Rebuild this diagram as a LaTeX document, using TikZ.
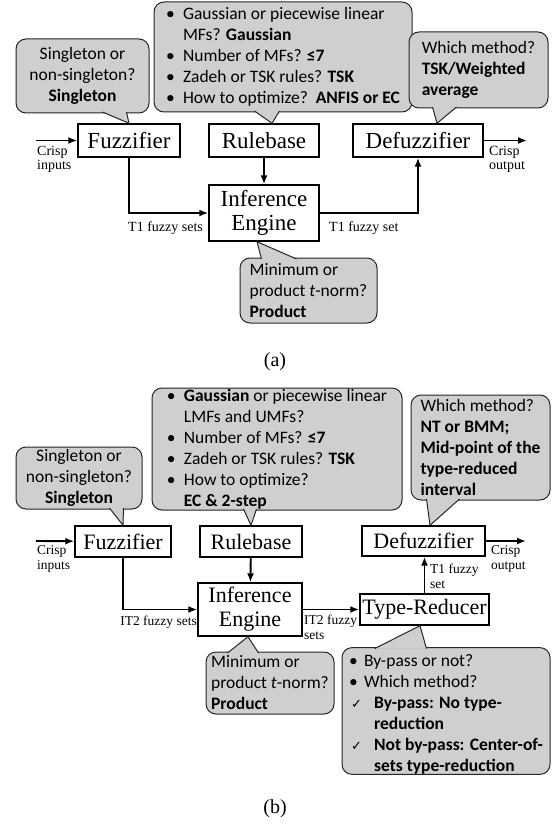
\documentclass[tikz,border=0pt]{standalone}
\usepackage{fontspec}
\setmainfont{Liberation Serif}
\newfontfamily\callfont{Carlito}
\newfontfamily\symfont{DejaVu Sans}
\usepackage{tikz}
\usetikzlibrary{positioning,arrows.meta,calc}
\definecolor{notegray}{RGB}{208,207,207}

\begin{document}
\begin{tikzpicture}[
  x=1pt, y=-1pt,
  block/.style={
    rectangle, draw, fill=white, line width=1.4pt,
    align=center, inner sep=0pt,
    font=\fontsize{23}{24}\selectfont
  },
  blockb/.style={
    block, font=\fontsize{22}{24}\selectfont
  },
  note/.style={
    rectangle, draw=black!85, fill=notegray, rounded corners=10pt,
    line width=1pt, inner sep=0pt, align=left,
    font=\callfont\fontsize{17.5}{21}\selectfont
  },
  tail/.style={draw=black!85, fill=notegray, line width=1pt, line join=round},
  tag/.style={inner sep=0pt, align=left, font=\fontsize{14}{14}\selectfont},
  tagb/.style={tag, font=\fontsize{13.5}{15}\selectfont},
  caption/.style={inner sep=0pt, font=\fontsize{20}{22}\selectfont},
  arrow/.style={-{Latex[length=9pt,width=7pt]}, line width=1.9pt}
]
\useasboundingbox (0,0) rectangle (559,824);

% =====================================================
% (a) BLOCKS
% =====================================================

\node[block, minimum width=102pt, minimum height=33pt] (fuzzifier) at (129,140.5) {Fuzzifier};
\node[block, minimum width=110pt, minimum height=33pt] (rulebase) at (264,140.5) {Rulebase};
\node[block, minimum width=130pt, minimum height=33pt] (defuzzifier) at (418,140.5) {Defuzzifier};
\node[block, minimum width=110pt, minimum height=56pt] (inference) at (264,213) {Inference\\Engine};

\coordinate (crispin) at (36,140.5);
\coordinate (crispout) at (527,140.5);

\draw[arrow] (crispin) -- (fuzzifier);
\draw[arrow] (fuzzifier.south) |- (inference.west);
\draw[arrow] (rulebase) -- (inference);
\draw[arrow] (inference.east) -| (defuzzifier.south);
\draw[arrow] (defuzzifier) -- (crispout);

\node[tag, anchor=north west] (inlabel) at (37,146) {Crisp\\inputs};
\node[tag, anchor=north west] (outlabel) at (489,146) {Crisp\\output};
\node[tag, anchor=west] (t1sets) at (128,228) {T1 fuzzy sets};
\node[tag, anchor=west] (t1set) at (329,228) {T1 fuzzy set};

% =====================================================
% (a) CALLOUTS
% =====================================================

\node[note, align=center, minimum width=133pt, minimum height=74pt] (fuzznote) at (82.5,76)
{Singleton or\\non-singleton?\\\textbf{Singleton}};
\filldraw[tail] ($(fuzznote.south west)+(87,-1.5)$) -- (fuzzifier.north) -- ($(fuzznote.south west)+(111,-1.5)$);

\node[note, minimum width=258pt, minimum height=110pt] (rulenote) at (283,57)
{\makebox[17pt][l]{\textbullet}Gaussian or piecewise linear\\
\hspace*{17pt}MFs? \textbf{Gaussian}\\
\makebox[17pt][l]{\textbullet}Number of MFs? \textbf{≤7}\\
\makebox[17pt][l]{\textbullet}Zadeh or TSK rules? \textbf{TSK}\\
\makebox[17pt][l]{\textbullet}How to optimize?\ \ \textbf{ANFIS or EC}};
\filldraw[tail] ($(rulenote.south west)+(101,-1.5)$) -- ($(rulebase.north)+(8,0)$) -- ($(rulenote.south west)+(126,-1.5)$);

\node[note, minimum width=139pt, minimum height=76pt] (defuzznote) at (478.5,70)
{Which method?\\\textbf{TSK/Weighted}\\\textbf{average}};
\filldraw[tail] ($(defuzznote.south west)+(24,-1.5)$) -- ($(defuzzifier.north)+(19,0)$) -- ($(defuzznote.south west)+(48,-1.5)$);

\node[note, minimum width=137pt, minimum height=65pt] (infnote) at (308.5,290.5)
{Minimum or\\product \textit{t}-norm?\\\textbf{Product}};
\filldraw[tail] ($(infnote.north west)+(22,1.5)$) -- ($(inference.south)+(-7,0)$) -- ($(infnote.north west)+(57,1.5)$);

\node[caption] (capa) at (275,362) {(a)};

% =====================================================
% (b) BLOCKS
% =====================================================

\node[blockb, minimum width=96pt, minimum height=31pt] (fuzzifier2) at (123,541.5) {Fuzzifier};
\node[blockb, minimum width=102pt, minimum height=31pt] (rulebase2) at (251,541.5) {Rulebase};
\node[blockb, minimum width=123pt, minimum height=30pt] (defuzzifier2) at (423.5,541) {Defuzzifier};
\node[blockb, minimum width=104pt, minimum height=53pt] (inference2) at (250,609.5) {Inference\\Engine};
\node[blockb, minimum width=129pt, minimum height=31pt] (reducer2) at (424.5,609.5) {Type-Reducer};

\coordinate (crispin2) at (36,541);
\coordinate (crispout2) at (526,541);

\draw[arrow] (crispin2) -- (fuzzifier2);
\draw[arrow] (fuzzifier2.south) |- (inference2.west);
\draw[arrow] (rulebase2) -- (inference2);
\draw[arrow] (inference2) -- (reducer2);
\draw[arrow] (reducer2.north) -- (reducer2.north |- defuzzifier2.south);
\draw[arrow] (defuzzifier2) -- (crispout2);

\node[tagb, anchor=north west] (inlabel2) at (37,545) {Crisp\\inputs};
\node[tagb, anchor=north west] (outlabel2) at (491,545) {Crisp\\output};
\node[tagb, anchor=east] (it2sets) at (197,622) {IT2 fuzzy sets};
\node[tagb, anchor=north west] (it2sets2) at (304,615) {IT2 fuzzy\\sets};
\node[tagb, anchor=north west] (t1set2) at (430,564) {T1 fuzzy\\set};

% =====================================================
% (b) CALLOUTS
% =====================================================

\node[note, align=center, minimum width=126pt, minimum height=62pt] (fuzznote2) at (79,478)
{Singleton or\\non-singleton?\\\textbf{Singleton}};
\filldraw[tail] ($(fuzznote2.south west)+(94,-1.5)$) -- (fuzzifier2.north) -- ($(fuzznote2.south west)+(108,-1.5)$);

\node[note, minimum width=250pt, minimum height=122pt] (rulenote2) at (277,449)
{\makebox[17pt][l]{\textbullet}\textbf{Gaussian} or piecewise linear\\
\hspace*{17pt}LMFs and UMFs?\\
\makebox[17pt][l]{\textbullet}Number of MFs? \textbf{≤7}\\
\makebox[17pt][l]{\textbullet}Zadeh or TSK rules? \textbf{TSK}\\
\makebox[17pt][l]{\textbullet}How to optimize?\\
\hspace*{17pt}\textbf{EC \& 2-step}};
\filldraw[tail] ($(rulenote2.south west)+(92,-1.5)$) -- (rulebase2.north) -- ($(rulenote2.south west)+(105,-1.5)$);

\node[note, minimum width=139pt, minimum height=105pt] (defuzznote2) at (480.5,447.5)
{Which method?\\\textbf{NT or BMM;}\\\textbf{Mid-point of the}\\\textbf{type-reduced}\\\textbf{interval}};
\filldraw[tail] ($(defuzznote2.south west)+(16,-1.5)$) -- ($(defuzzifier2.north)+(6.5,0)$) -- ($(defuzznote2.south west)+(49,-1.5)$);

\node[note, minimum width=128pt, minimum height=62pt] (infnote2) at (270,683)
{Minimum or\\product \textit{t}-norm?\\\textbf{Product}};
\filldraw[tail] ($(infnote2.north west)+(22,1.5)$) -- ($(inference2.south)+(-2,0)$) -- ($(infnote2.north west)+(53,1.5)$);

\node[note, minimum width=208pt, minimum height=118pt] (reducernote2) at (446,711)
{\rule{0pt}{19pt}\makebox[15pt][l]{\textbullet}By-pass or not?\\
\makebox[15pt][l]{\textbullet}Which method?\\
\hspace*{2pt}\makebox[23pt][l]{\symfont\fontsize{13}{13}\selectfont ✓}\textbf{By-pass: No type-}\\
\hspace*{25pt}\textbf{reduction}\\
\hspace*{2pt}\makebox[23pt][l]{\symfont\fontsize{13}{13}\selectfont ✓}\textbf{Not by-pass: Center-of-}\\
\hspace*{25pt}\textbf{sets type-reduction}};
\filldraw[tail] ($(reducernote2.north west)+(33,1.5)$) -- ($(reducer2.south)+(-4.5,0)$) -- ($(reducernote2.north west)+(85,1.5)$);

\node[caption] (capb) at (275,809) {(b)};

\end{tikzpicture}
\end{document}
